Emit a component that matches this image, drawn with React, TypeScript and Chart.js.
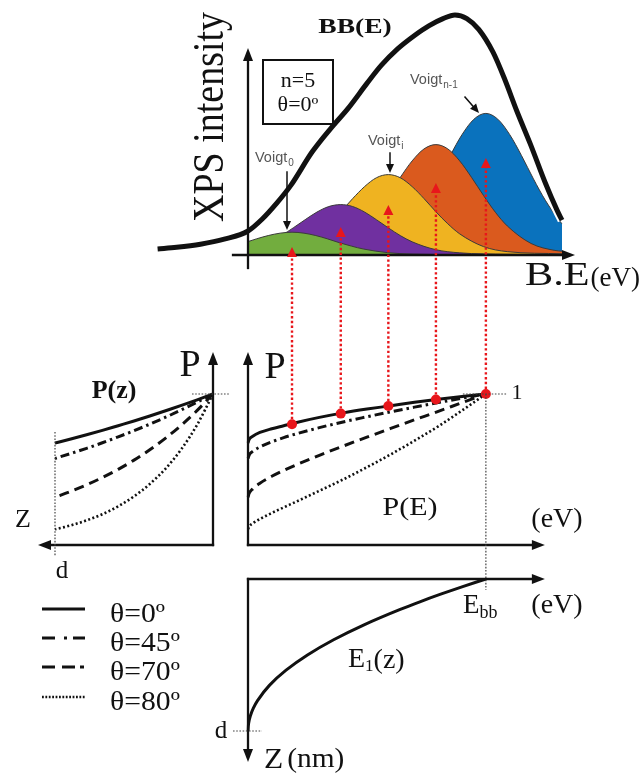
import React, { useEffect, useRef } from 'react';
import { Chart, registerables } from 'chart.js';

Chart.register(...registerables);

// ---- Binding-energy axis: 0 at the flat-band end, 1 = E_bb ----
// Voigt components (centre energies, used for the peaks, the red arrows and the P(E) markers)
const voigtCenters = [0.185, 0.39, 0.59, 0.79, 1.0];
// Intensity where each red arrow ends, below its peak
const arrowTips = [0.033, 0.117, 0.208, 0.3, 0.404];
// P(E) read at each Voigt centre (theta = 0)
const markerP = [0.8, 0.87, 0.92, 0.963, 1.0];

const voigt0E = [-0.065, -0.015, 0.035, 0.085, 0.135, 0.185, 0.235, 0.285, 0.335, 0.385, 0.435, 0.485, 0.585, 0.685, 0.885, 1.085];
const voigt0I = [0.037, 0.051, 0.067, 0.081, 0.091, 0.095, 0.091, 0.081, 0.067, 0.051, 0.037, 0.025, 0.01, 0.004, 0.001, 0.0006];

const voigt1E = [-0.06, -0.01, 0.09, 0.14, 0.19, 0.24, 0.29, 0.34, 0.39, 0.44, 0.49, 0.54, 0.59, 0.64, 0.69, 0.79, 0.89, 1.09, 1.32];
const voigt1I = [0.013, 0.022, 0.055, 0.081, 0.113, 0.147, 0.179, 0.202, 0.21, 0.202, 0.179, 0.147, 0.113, 0.081, 0.055, 0.022, 0.009, 0.003, 0.0015];

const voigt2E = [-0.06, 0.09, 0.19, 0.29, 0.34, 0.39, 0.44, 0.49, 0.54, 0.59, 0.64, 0.69, 0.74, 0.79, 0.84, 0.89, 0.99, 1.09, 1.32];
const voigt2I = [0.005, 0.014, 0.035, 0.088, 0.13, 0.18, 0.235, 0.285, 0.322, 0.335, 0.322, 0.285, 0.235, 0.18, 0.13, 0.088, 0.035, 0.014, 0.005];

const voigt3E = [-0.06, 0.09, 0.29, 0.39, 0.49, 0.54, 0.59, 0.64, 0.69, 0.74, 0.79, 0.84, 0.89, 0.94, 0.99, 1.04, 1.09, 1.19, 1.29, 1.32];
const voigt3I = [0.004, 0.006, 0.019, 0.048, 0.121, 0.178, 0.248, 0.323, 0.392, 0.442, 0.46, 0.442, 0.392, 0.323, 0.248, 0.178, 0.121, 0.048, 0.019, 0.016];

const voigt4E = [-0.06, 0.3, 0.5, 0.6, 0.7, 0.75, 0.8, 0.85, 0.9, 0.95, 1.0, 1.05, 1.1, 1.15, 1.2, 1.25, 1.3, 1.32];
const voigt4I = [0.004, 0.008, 0.024, 0.062, 0.155, 0.228, 0.317, 0.414, 0.502, 0.566, 0.59, 0.566, 0.502, 0.414, 0.317, 0.228, 0.155, 0.13];

// Envelope BB(E)
const bbE = [-0.38, -0.3, -0.2, -0.1, 0, 0.06, 0.12, 0.18, 0.27, 0.35, 0.42, 0.5, 0.56, 0.63, 0.7, 0.76, 0.82, 0.87, 0.92, 0.97, 1.03, 1.08, 1.13, 1.19, 1.25, 1.3, 1.32];
const bbI = [0.025, 0.032, 0.045, 0.066, 0.1, 0.15, 0.215, 0.29, 0.43, 0.53, 0.61, 0.715, 0.79, 0.86, 0.915, 0.955, 0.985, 1.0, 0.985, 0.94, 0.845, 0.73, 0.6, 0.455, 0.3, 0.185, 0.145];

// ---- P(z): depth in units of d ----
const depthZ = [0, 0.1, 0.2, 0.3, 0.4, 0.5, 0.6, 0.7, 0.8, 0.9, 1.0];
const pz0 = [1, 0.961, 0.924, 0.889, 0.854, 0.821, 0.79, 0.759, 0.73, 0.702, 0.675];
const pz45 = [1, 0.946, 0.895, 0.846, 0.8, 0.757, 0.716, 0.677, 0.64, 0.606, 0.573];
const pz70 = [1, 0.891, 0.794, 0.708, 0.631, 0.562, 0.501, 0.447, 0.398, 0.355, 0.316];
const pz80 = [1, 0.797, 0.635, 0.506, 0.404, 0.322, 0.256, 0.204, 0.163, 0.13, 0.104];

// ---- P(E) ----
const energyE = [0, 0.005, 0.02, 0.05, 0.1, 0.15, 0.2, 0.3, 0.4, 0.5, 0.6, 0.7, 0.8, 0.9, 1.0];
const pe0 = [0.675, 0.7, 0.72, 0.745, 0.77, 0.79, 0.81, 0.845, 0.875, 0.9, 0.922, 0.945, 0.965, 0.983, 1.0];
const pe45 = [0.573, 0.596, 0.62, 0.649, 0.683, 0.711, 0.735, 0.777, 0.815, 0.849, 0.882, 0.913, 0.943, 0.972, 1.0];
const pe70 = [0.316, 0.343, 0.372, 0.409, 0.455, 0.494, 0.529, 0.594, 0.655, 0.714, 0.772, 0.829, 0.885, 0.943, 1.0];
const pe80 = [0.104, 0.122, 0.143, 0.172, 0.212, 0.249, 0.285, 0.359, 0.434, 0.515, 0.6, 0.691, 0.786, 0.891, 1.0];

// ---- Band bending E1(z) ----
const bandZ = [0, 0.05, 0.1, 0.15, 0.2, 0.3, 0.4, 0.5, 0.6, 0.7, 0.8, 0.85, 0.9, 0.95, 1.0];
const bandE = [1, 0.9025, 0.81, 0.7225, 0.64, 0.49, 0.36, 0.25, 0.16, 0.09, 0.04, 0.0225, 0.01, 0.0025, 0];

// Energy range of the right-hand column
const energyMin = 0;
const energyMax = 1.32;

const angleLabels = ['θ=0º', 'θ=45º', 'θ=70º', 'θ=80º'];
const voigtNames = ['Voigt 0', 'Voigt 1', 'Voigt i', 'Voigt 3', 'Voigt n-1'];
const voigtColors = ['#72ad3e', '#7030a0', '#efb321', '#da5a1e', '#0a72bd'];

const SERIF = '"Liberation Serif", "Times New Roman", serif';
const SANS = '"Liberation Sans", Arial, sans-serif';
const INK = '#111111';
const RED = '#e8161b';

const angleStyles = [
  { dash: [] as number[], width: 3 },
  { dash: [9, 4, 2.5, 4], width: 3 },
  { dash: [10, 6], width: 3 },
  { dash: [2, 2.4], width: 2.6 },
];

const pts = (xs: number[], ys: number[]) => xs.map((v, i) => ({ x: v, y: ys[i] }));

type TextOpts = {
  size: number;
  bold?: boolean;
  sx?: number;
  sy?: number;
  align?: CanvasTextAlign;
  family?: string;
  color?: string;
  rot?: number;
};

function put(ctx: CanvasRenderingContext2D, text: string, x: number, y: number, o: TextOpts): number {
  ctx.save();
  ctx.font = `${o.bold ? 'bold ' : ''}${o.size}px ${o.family ?? SERIF}`;
  ctx.fillStyle = o.color ?? INK;
  ctx.textBaseline = 'middle';
  ctx.textAlign = o.align ?? 'left';
  ctx.translate(x, y);
  if (o.rot) ctx.rotate(o.rot);
  ctx.scale(o.sx ?? 1, o.sy ?? 1);
  ctx.fillText(text, 0, 0);
  const w = ctx.measureText(text).width * (o.sx ?? 1);
  ctx.restore();
  return w;
}

type ArrowOpts = { width: number; head: number; headW: number; color: string; dash?: number[] };

function arrow(ctx: CanvasRenderingContext2D, x1: number, y1: number, x2: number, y2: number, o: ArrowOpts) {
  const ang = Math.atan2(y2 - y1, x2 - x1);
  ctx.save();
  ctx.strokeStyle = o.color;
  ctx.fillStyle = o.color;
  ctx.lineWidth = o.width;
  ctx.lineCap = o.dash && o.dash.length ? 'butt' : 'square';
  ctx.setLineDash(o.dash ?? []);
  ctx.beginPath();
  ctx.moveTo(x1, y1);
  ctx.lineTo(x2 - Math.cos(ang) * o.head * 0.8, y2 - Math.sin(ang) * o.head * 0.8);
  ctx.stroke();
  ctx.setLineDash([]);
  ctx.translate(x2, y2);
  ctx.rotate(ang);
  ctx.beginPath();
  ctx.moveTo(0, 0);
  ctx.lineTo(-o.head, -o.headW / 2);
  ctx.lineTo(-o.head, o.headW / 2);
  ctx.closePath();
  ctx.fill();
  ctx.restore();
}

function dotted(ctx: CanvasRenderingContext2D, x1: number, y1: number, x2: number, y2: number) {
  ctx.save();
  ctx.strokeStyle = '#444';
  ctx.lineWidth = 1.2;
  ctx.setLineDash([1.6, 1.6]);
  ctx.beginPath();
  ctx.moveTo(x1, y1);
  ctx.lineTo(x2, y2);
  ctx.stroke();
  ctx.restore();
}

const axisStyle: ArrowOpts = { width: 2.3, head: 13, headW: 10, color: INK };
const pointerStyle: ArrowOpts = { width: 1.5, head: 9, headW: 8, color: INK };

const diagramPlugin = {
  id: 'diagram',
  afterDatasetsDraw(chart: any) {
    const ctx: CanvasRenderingContext2D = chart.ctx;
    const { x, yI, yP, yZ, xZ } = chart.scales;
    const e0 = x.getPixelForValue(0);
    const eBB = x.getPixelForValue(1);
    const i0 = yI.getPixelForValue(0);
    const p0 = yP.getPixelForValue(0);
    const p1 = yP.getPixelForValue(1);
    const z0 = xZ.getPixelForValue(0);
    const zd = xZ.getPixelForValue(1);
    const zTop = yZ.getPixelForValue(0);
    const zBottom = yZ.getPixelForValue(1);
    const eArrow = x.getPixelForValue(1.248);

    // ---------- XPS panel ----------
    arrow(ctx, e0, i0 + 13, e0, yI.top + 33, axisStyle);
    arrow(ctx, x.getPixelForValue(-0.063), i0, x.right + 13, i0, axisStyle);

    put(ctx, 'XPS intensity', 212, 117, { size: 38, rot: -Math.PI / 2, sy: 1.15, align: 'center' });
    put(ctx, 'BB(E)', 355, 27, { size: 22, bold: true, sx: 1.25, align: 'center' });

    ctx.save();
    ctx.strokeStyle = INK;
    ctx.lineWidth = 2;
    ctx.strokeRect(263, 60, 70, 64);
    ctx.restore();
    put(ctx, 'n=5', 298, 82, { size: 20, sx: 1.1, align: 'center' });
    put(ctx, angleLabels[0], 298, 106, { size: 20, sx: 1.1, align: 'center' });

    const grey = '#555';
    let w = put(ctx, 'Voigt', 255, 158, { size: 14.5, family: SANS, color: grey });
    put(ctx, '0', 255 + w + 1, 163, { size: 10, family: SANS, color: grey });
    arrow(ctx, 287, 172, 287, 230, pointerStyle);

    w = put(ctx, 'Voigt', 368, 141, { size: 14.5, family: SANS, color: grey });
    put(ctx, 'i', 368 + w + 1, 146, { size: 10, family: SANS, color: grey });
    arrow(ctx, 390, 153, 390, 173, pointerStyle);

    w = put(ctx, 'Voigt', 410, 80, { size: 14.5, family: SANS, color: grey });
    put(ctx, 'n-1', 410 + w + 1, 85, { size: 10, family: SANS, color: grey });
    arrow(ctx, 465, 97, 479, 113, pointerStyle);

    w = put(ctx, 'B.E', 525, 276, { size: 33, sx: 1.28 });
    put(ctx, '(eV)', 525 + w + 1, 279, { size: 27 });

    // red projections from P(E) up to each Voigt component
    voigtCenters.forEach((c, k) => {
      const px = x.getPixelForValue(c);
      const py = yP.getPixelForValue(markerP[k]) - 5;
      const ty = yI.getPixelForValue(arrowTips[k]);
      arrow(ctx, px, py, px, ty, { width: 2.4, head: 10, headW: 10, color: RED, dash: [2.4, 2.4] });
    });

    // ---------- P(z) panel ----------
    arrow(ctx, z0, p0, z0, yP.top, axisStyle);
    arrow(ctx, z0, p0, zd - 17, p0, axisStyle);
    dotted(ctx, z0 - 21, p1, z0 + 17, p1);
    dotted(ctx, zd, p1 + 38, zd, p0 + 11);
    put(ctx, 'P', 190, 366, { size: 38, align: 'center' });
    put(ctx, 'P(z)', 114, 391, { size: 26, bold: true, align: 'center' });
    put(ctx, 'Z', 23, 520, { size: 26, align: 'center' });
    put(ctx, 'd', 62, 571, { size: 25, align: 'center' });

    // ---------- P(E) panel ----------
    arrow(ctx, e0, p0, e0, yP.top, axisStyle);
    arrow(ctx, e0, p0, eArrow, p0, axisStyle);
    dotted(ctx, eBB - 23, p1, eBB + 21, p1);
    dotted(ctx, eBB, p1, eBB, zTop + 11);
    put(ctx, 'P', 275, 368, { size: 38, align: 'center' });
    put(ctx, '1', 517, 393, { size: 22, align: 'center' });
    put(ctx, 'P(E)', 410, 508, { size: 25, sx: 1.2, align: 'center' });
    put(ctx, '(eV)', 557, 520, { size: 28, align: 'center' });

    // ---------- E1(z) panel ----------
    arrow(ctx, e0, zTop, eArrow, zTop, axisStyle);
    arrow(ctx, e0, zTop, e0, zBottom + 31, axisStyle);
    dotted(ctx, e0 - 15, zBottom, e0 + 14, zBottom);
    w = put(ctx, 'E', 463, 606, { size: 27 });
    put(ctx, 'bb', 463 + w, 613, { size: 18 });
    put(ctx, '(eV)', 557, 606, { size: 28, align: 'center' });
    w = put(ctx, 'E', 348, 660, { size: 28 });
    const w1 = put(ctx, '1', 348 + w, 667, { size: 17 });
    put(ctx, '(z)', 348 + w + w1, 661, { size: 28 });
    put(ctx, 'd', 221, 731, { size: 25, align: 'center' });
    w = put(ctx, 'Z', 264, 760, { size: 30, sx: 1.05 });
    put(ctx, '(nm)', 264 + w + 4, 760, { size: 28, sx: 1.05 });

    // ---------- legend (same styles as the P curves) ----------
    const rowsY = [609, 638, 667, 697];
    angleLabels.forEach((lab, k) => {
      const st = angleStyles[k];
      ctx.save();
      ctx.strokeStyle = INK;
      ctx.lineWidth = st.width;
      ctx.setLineDash(k === 3 ? [1.8, 1.6] : k === 1 ? [13, 9, 3, 6] : k === 2 ? [13, 7, 13, 5, 4, 20] : []);
      ctx.beginPath();
      ctx.moveTo(42, rowsY[k]);
      ctx.lineTo(85, rowsY[k]);
      ctx.stroke();
      ctx.restore();
      put(ctx, lab, 110, rowsY[k] + 6, { size: 27, sx: 1.1 });
    });
  },
};

export default function App() {
  const ref = useRef<HTMLCanvasElement>(null);

  useEffect(() => {
    if (!ref.current) return;

    const angleSet = (xs: number[], series: number[][], xId: string) =>
      series.map((ys, k) => ({
        type: 'line' as const,
        label: `${xId === 'xZ' ? 'P(z)' : 'P(E)'} ${angleLabels[k]}`,
        data: pts(xs, ys),
        xAxisID: xId,
        yAxisID: 'yP',
        borderColor: INK,
        borderWidth: angleStyles[k].width,
        borderDash: angleStyles[k].dash,
        borderCapStyle: 'butt' as const,
        pointRadius: 0,
        fill: false,
        cubicInterpolationMode: 'monotone' as const,
      }));

    const voigtData = [
      pts(voigt0E, voigt0I),
      pts(voigt1E, voigt1I),
      pts(voigt2E, voigt2I),
      pts(voigt3E, voigt3I),
      pts(voigt4E, voigt4I),
    ];

    const datasets: any[] = [
      {
        label: 'P at Voigt centres',
        data: pts(voigtCenters, markerP),
        xAxisID: 'x',
        yAxisID: 'yP',
        showLine: false,
        pointRadius: 5,
        pointBackgroundColor: RED,
        pointBorderWidth: 0,
      },
      {
        label: 'BB(E)',
        data: pts(bbE, bbI),
        xAxisID: 'x',
        yAxisID: 'yI',
        borderColor: INK,
        borderWidth: 5,
        pointRadius: 0,
        fill: false,
        clip: false,
        cubicInterpolationMode: 'monotone',
      },
      {
        label: 'BB(E) halo',
        data: pts(bbE, bbI),
        xAxisID: 'x',
        yAxisID: 'yI',
        borderColor: '#ffffff',
        borderWidth: 9,
        pointRadius: 0,
        fill: false,
        clip: false,
        cubicInterpolationMode: 'monotone',
      },
      ...voigtData.map((d, k) => ({
        label: voigtNames[k],
        data: d,
        xAxisID: 'x',
        yAxisID: 'yI',
        borderColor: '#3b3b3b',
        borderWidth: 1,
        backgroundColor: voigtColors[k],
        fill: 'origin',
        pointRadius: 0,
        cubicInterpolationMode: 'monotone',
      })),
      ...angleSet(energyE, [pe0, pe45, pe70, pe80], 'x'),
      ...angleSet(depthZ, [pz0, pz45, pz70, pz80], 'xZ'),
      {
        label: 'E1(z)',
        data: pts(bandE, bandZ),
        xAxisID: 'x',
        yAxisID: 'yZ',
        borderColor: INK,
        borderWidth: 3,
        pointRadius: 0,
        fill: false,
        cubicInterpolationMode: 'monotone',
        indexAxis: 'y',
      },
    ];

    const hidden = { display: false, type: 'linear' as const };

    const chart = new Chart(ref.current, {
      type: 'line',
      data: { datasets },
      options: {
        responsive: false,
        animation: false,
        events: [],
        layout: { padding: { left: 55, right: 81, top: 15, bottom: 49 } },
        plugins: {
          legend: { display: false },
          tooltip: { enabled: false },
          title: { display: false },
        },
        scales: {
          // columns: depth (P(z) panel) | gap | energy
          xZ: { ...hidden, axis: 'x', position: 'bottom', stack: 'cols', stackWeight: 158, weight: 1, min: 0, max: 1, reverse: true },
          gapX: { ...hidden, axis: 'x', position: 'bottom', stack: 'cols', stackWeight: 35, weight: 2, min: 0, max: 1 },
          // the energy range is fixed after the data limits so that the envelope's
          // low-energy tail (E < 0) is still drawn to the left of the axis
          x: {
            ...hidden,
            axis: 'x',
            position: 'bottom',
            stack: 'cols',
            stackWeight: 314,
            weight: 3,
            bounds: 'data',
            afterDataLimits: (scale: any) => {
              scale.min = energyMin;
              scale.max = energyMax;
            },
          },
          // rows: intensity | gap | P | gap | depth
          yI: { ...hidden, axis: 'y', position: 'left', stack: 'rows', stackWeight: 240, weight: 5, min: 0, max: 1 },
          gapY1: { ...hidden, axis: 'y', position: 'left', stack: 'rows', stackWeight: 97, weight: 4, min: 0, max: 1 },
          yP: { ...hidden, axis: 'y', position: 'left', stack: 'rows', stackWeight: 193, weight: 3, min: 0, max: 1.278 },
          gapY2: { ...hidden, axis: 'y', position: 'left', stack: 'rows', stackWeight: 34, weight: 2, min: 0, max: 1 },
          yZ: { ...hidden, axis: 'y', position: 'left', stack: 'rows', stackWeight: 152, weight: 1, min: 0, max: 1, reverse: true },
        } as any,
      },
      plugins: [diagramPlugin],
    } as any);

    return () => chart.destroy();
  }, []);

  return (
    <div style={{ position: 'absolute', left: 0, top: 0, width: 643, height: 780, background: '#fff' }}>
      <canvas ref={ref} width={643} height={780} style={{ display: 'block', width: 643, height: 780 }} />
    </div>
  );
}
